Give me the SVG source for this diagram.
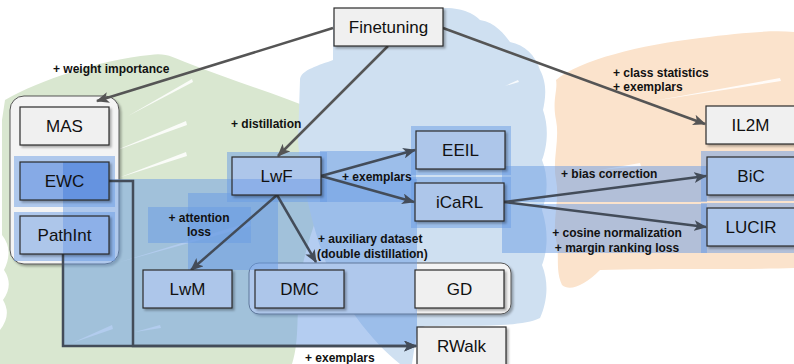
<svg xmlns="http://www.w3.org/2000/svg" width="794" height="364" viewBox="0 0 794 364">
<defs>
<style>
.box{stroke:#2b2b2b;stroke-width:1.2;filter:url(#sh)}
.g{fill:#f0f0f0}
.b{fill:#adc6ea}
.nt{font-family:"Liberation Sans",Arial,sans-serif;font-size:17px;fill:#111;text-anchor:middle}
.lbl{font-family:"Liberation Sans",Arial,sans-serif;font-size:12px;font-weight:bold;fill:#111}
.mid{text-anchor:middle}
.hl{fill:#6a9be3;fill-opacity:0.5}
.c1{fill:none;stroke:#555;stroke-width:2.5}
.c2{fill:none;stroke:#434c59;stroke-width:2.5}
.grp{fill:#f4f4f4;stroke:#555;stroke-width:1;filter:url(#sh)}
.st{fill:#fff;opacity:0.85}
</style>
<filter id="sh" x="-10%" y="-10%" width="130%" height="140%">
<feDropShadow dx="2" dy="2" stdDeviation="1.2" flood-color="#000" flood-opacity="0.3"/>
</filter>
<marker id="a1" viewBox="0 0 12 10" markerWidth="13" markerHeight="11" refX="11" refY="5" orient="auto" markerUnits="userSpaceOnUse">
<path d="M0,0 L12,5 L0,10 L3,5 Z" fill="#555"/>
</marker>
<marker id="a2" viewBox="0 0 12 10" markerWidth="13" markerHeight="11" refX="11" refY="5" orient="auto" markerUnits="userSpaceOnUse">
<path d="M0,0 L12,5 L0,10 L3,5 Z" fill="#434c59"/>
</marker>
<linearGradient id="gEWC" x1="0" y1="0" x2="1" y2="0">
<stop offset="0.483" stop-color="#86aae6"/><stop offset="0.483" stop-color="#6593e0"/>
</linearGradient>
<linearGradient id="gPI" x1="0" y1="0" x2="1" y2="0">
<stop offset="0.483" stop-color="#adc6ea"/><stop offset="0.483" stop-color="#8db0e8"/>
</linearGradient>
<linearGradient id="gLwF" x1="0" y1="0" x2="0" y2="1">
<stop offset="0.58" stop-color="#adc6ea"/><stop offset="0.58" stop-color="#8db0e8"/>
</linearGradient>
</defs>

<!-- background blobs -->
<g id="blobs">
<path d="M5,100 C40,80 100,60 150,55 C165,52 175,58 185,62 C230,80 280,95 320,112 C340,120 340,150 332,172 C320,210 305,245 300,280 C296,310 300,340 292,364 L0,364 L0,330 Q12,315 3,300 Q14,285 4,270 Q14,250 2,235 L2,120 Z" fill="#d9e7d0"/>
<path d="M300,80 C300,70 320,65 333,60 L333,20 C360,10 400,8 445,8 C465,8 475,15 480,20 C495,22 505,35 510,42 C525,45 535,55 540,70 C548,85 545,100 543,110 C550,130 546,150 542,160 C550,180 546,200 542,210 C550,235 546,255 542,265 C550,285 546,305 540,318 C520,328 470,325 425,326 L417,330 L412,364 L400,364 C370,340 340,300 325,260 C310,220 300,170 298,140 Z" fill="#cfe0f1"/>
<path d="M556,80 C580,60 640,45 700,38 C740,33 770,30 794,32 L794,268 C740,270 660,268 600,270 C585,285 570,292 562,285 C555,270 560,255 556,240 C552,220 560,200 556,180 C552,160 560,140 556,120 C552,100 558,90 556,80 Z" fill="#fbe3cc"/>
<polygon class="st" points="128,116 192,79 193,82"/>
<polygon class="st" points="112,152 186,121 187,125"/>
<polygon class="st" points="118,178 186,152 187,156"/>
<polygon class="st" points="120,262 250,222 251,226"/>
<polygon class="st" points="72,343 112,325 113,329"/>
<polygon class="st" points="135,332 160,325 161,328"/>
<polygon class="st" points="505,86 518,80 519,82"/>
<polygon class="st" points="653,101 780,78 781,81"/>
<polygon class="st" points="600,170 640,163 641,166"/>
</g>

<!-- containers -->
<g id="group-reg">
<rect class="grp" x="10" y="96" width="109" height="168" rx="14"/>
</g>
<g id="group-dmc">
<rect class="grp" x="249" y="263" width="262" height="51" rx="10"/>
</g>

<!-- highlight overlays -->
<g id="highlights">
<rect class="hl" x="14" y="156" width="101" height="51"/>
<rect class="hl" x="14" y="212" width="101" height="49"/>
<rect class="hl" x="63" y="179" width="354" height="168"/>
<rect class="hl" x="227" y="152" width="100" height="50"/>
<rect class="hl" x="320" y="151" width="96" height="51"/>
<rect class="hl" x="411" y="126" width="100" height="49"/>
<rect class="hl" x="411" y="177" width="100" height="51"/>
<rect class="hl" x="502" y="166" width="205" height="36"/>
<rect class="hl" x="502" y="204" width="205" height="49"/>
<rect class="hl" x="701" y="151" width="93" height="50"/>
<rect class="hl" x="701" y="203" width="93" height="50"/>
<rect class="hl" x="188" y="193" width="90" height="77"/>
<rect class="hl" x="148" y="207" width="103" height="36"/>
</g>

<!-- connectors -->
<g id="connectors">
<path class="c1" d="M333,28 L97,101" marker-end="url(#a1)"/>
<path class="c1" d="M388,46 L278,156" marker-end="url(#a1)"/>
<path class="c1" d="M443,28 L705,124" marker-end="url(#a1)"/>
<path class="c2" d="M321,176 L415,150" marker-end="url(#a2)"/>
<path class="c2" d="M321,176 L414,202" marker-end="url(#a2)"/>
<path class="c2" d="M277,195 L191,270" marker-end="url(#a2)"/>
<path class="c2" d="M277,195 L316,262" marker-end="url(#a2)"/>
<path class="c2" d="M504,202 L706,176" marker-end="url(#a2)"/>
<path class="c2" d="M504,202 L706,227" marker-end="url(#a2)"/>
<path class="c2" d="M109,181 H133 V346 H416" marker-end="url(#a2)"/>
<path class="c2" d="M63,254 V346 H416" marker-end="url(#a2)"/>
</g>

<!-- nodes -->
<g id="Finetuning"><rect class="box g" x="334" y="8" width="109" height="38"/><text class="nt" x="388.5" y="33">Finetuning</text></g>
<g id="MAS"><rect class="box g" x="20" y="107" width="89" height="38"/><text class="nt" x="64.5" y="132">MAS</text></g>
<g id="EWC"><rect class="box" fill="url(#gEWC)" x="20" y="162" width="89" height="38"/><text class="nt" x="64.5" y="187">EWC</text></g>
<g id="PathInt"><rect class="box" fill="url(#gPI)" x="20" y="216" width="89" height="38"/><text class="nt" x="64.5" y="241">PathInt</text></g>
<g id="LwF"><rect class="box" fill="url(#gLwF)" x="232" y="157" width="89" height="38"/><text class="nt" x="276.5" y="182">LwF</text></g>
<g id="EEIL"><rect class="box b" x="416" y="131" width="89" height="38"/><text class="nt" x="460.5" y="156">EEIL</text></g>
<g id="iCaRL"><rect class="box b" x="415" y="183" width="89" height="38"/><text class="nt" x="459.5" y="208">iCaRL</text></g>
<g id="IL2M"><rect class="box g" x="706" y="106" width="90" height="38"/><text class="nt" x="750.5" y="131">IL2M</text></g>
<g id="BiC"><rect class="box b" x="707" y="157" width="90" height="38"/><text class="nt" x="751" y="182">BiC</text></g>
<g id="LUCIR"><rect class="box b" x="707" y="208" width="90" height="38"/><text class="nt" x="751" y="233">LUCIR</text></g>
<g id="LwM"><rect class="box b" x="143" y="270" width="89" height="38"/><text class="nt" x="187.5" y="295">LwM</text></g>
<g id="DMC"><rect class="box b" x="255" y="270" width="89" height="38"/><text class="nt" x="299.5" y="295">DMC</text></g>
<g id="GD"><rect class="box g" x="415" y="270" width="89" height="38"/><text class="nt" x="459.5" y="295">GD</text></g>
<g id="RWalk"><rect class="box g" x="417" y="327" width="89" height="42"/><text class="nt" x="461.5" y="352">RWalk</text></g>

<!-- edge labels -->
<g id="labels">
<text class="lbl" x="53" y="73">+ weight importance</text>
<text class="lbl" x="231" y="128">+ distillation</text>
<text class="lbl" x="613" y="77">+ class statistics</text>
<text class="lbl" x="613" y="91">+ exemplars</text>
<text class="lbl" x="342" y="181">+ exemplars</text>
<text class="lbl" x="561" y="178">+ bias correction</text>
<text class="lbl mid" x="617" y="237">+ cosine normalization</text>
<text class="lbl mid" x="617" y="252">+ margin ranking loss</text>
<text class="lbl mid" x="199" y="222">+ attention</text>
<text class="lbl mid" x="199" y="236">loss</text>
<text class="lbl" x="318" y="243">+ auxiliary dataset</text>
<text class="lbl" x="317" y="258">(double distillation)</text>
<text class="lbl" x="305" y="362">+ exemplars</text>
</g>
</svg>
